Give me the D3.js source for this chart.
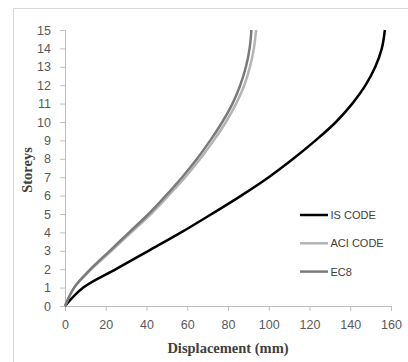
<!DOCTYPE html>
<html>
<head>
<meta charset="utf-8">
<script src="https://cdn.jsdelivr.net/npm/d3@7/dist/d3.min.js"></script>
<style>
  body { margin: 0; background: #fff; }
</style>
</head>
<body>
<div id="chart"></div>
<script>
// data
const storeys = [0, 1, 2, 3, 4, 5, 6, 7, 8, 9, 10, 11, 12, 13, 14, 15];
const isCode = [0, 9, 25, 41, 57, 72, 86.5, 100, 112, 123, 133, 141, 147.5, 152.3, 155.5, 157];
const aciCode = [0, 4.5, 13, 22.8, 32.5, 42.2, 50.8, 59, 66.4, 73, 79, 84, 88, 90.8, 92.7, 93.8];
const ec8 = [0, 4.5, 12.5, 22, 31.5, 41, 49.5, 57.5, 64.8, 71.3, 77.2, 82.2, 86, 88.8, 90.6, 91.5];
const xTicks = [0, 20, 40, 60, 80, 100, 120, 140, 160];
const yTicks = [0, 1, 2, 3, 4, 5, 6, 7, 8, 9, 10, 11, 12, 13, 14, 15];

const series = [
  { name: "IS CODE", values: isCode, color: "#000000" },
  { name: "ACI CODE", values: aciCode, color: "#b4b4b4" },
  { name: "EC8", values: ec8, color: "#7a7a7a" },
];

const W = 408, H = 362;
const margin = { top: 30, right: 17, bottom: 56, left: 65 };
const width = W - margin.left - margin.right;
const height = H - margin.top - margin.bottom;

const root = d3.select("#chart").append("svg").attr("width", W).attr("height", H);

// chart area border (only top and left are inside the picture)
root.append("path")
  .attr("d", "M13.5,362 V8.5 H408")
  .attr("fill", "none")
  .attr("stroke", "#d9d9d9")
  .attr("stroke-width", 1);

const svg = root.append("g").attr("transform", `translate(${margin.left},${margin.top})`);

const x = d3.scaleLinear().domain([0, 160]).range([0, width]);
const y = d3.scaleLinear().domain([0, 15]).range([height, 0]);

// X axis
const gx = svg.append("g")
  .attr("transform", `translate(0,${height})`)
  .call(d3.axisBottom(x).tickValues(xTicks).tickSize(5).tickPadding(9));

// Y axis
const gy = svg.append("g")
  .call(d3.axisLeft(y).tickValues(yTicks).tickSize(5).tickPadding(9));

[gx, gy].forEach((g) => {
  g.select(".domain").attr("stroke", "#bfbfbf");
  g.selectAll(".tick line").attr("stroke", "#bfbfbf");
  g.selectAll(".tick text")
    .attr("fill", "#595959")
    .style("font-family", "'Liberation Sans', Arial, sans-serif")
    .style("font-size", "12.5px");
});

// lines
const line = d3.line()
  .curve(d3.curveCatmullRom.alpha(0.5))
  .x((d) => x(d[0]))
  .y((d) => y(d[1]));

series.forEach((s) => {
  svg.append("path")
    .datum(s.values.map((v, i) => [v, storeys[i]]))
    .attr("fill", "none")
    .attr("stroke", s.color)
    .attr("stroke-width", 2.5)
    .attr("d", line);
});

// legend
const legend = svg.append("g").attr("transform", `translate(${300 - margin.left},${215 - margin.top})`);
series.forEach((s, i) => {
  const g = legend.append("g").attr("transform", `translate(0,${i * 28.3})`);
  g.append("line")
    .attr("x1", 0).attr("x2", 28)
    .attr("y1", 0).attr("y2", 0)
    .attr("stroke", s.color)
    .attr("stroke-width", 2.5);
  g.append("text")
    .attr("x", 30.5)
    .attr("y", 4)
    .attr("fill", "#404040")
    .style("font-family", "'Liberation Sans Narrow', 'Liberation Sans', Arial, sans-serif")
    .style("font-size", "11px")
    .text(s.name);
});

// axis labels
svg.append("text")
  .attr("x", width / 2)
  .attr("y", height + 47)
  .attr("text-anchor", "middle")
  .attr("fill", "#404040")
  .style("font-family", "'Liberation Serif', 'Times New Roman', serif")
  .style("font-weight", "bold")
  .style("font-size", "14.5px")
  .text("Displacement (mm)");

svg.append("text")
  .attr("transform", "rotate(-90)")
  .attr("x", -(170 - margin.top))
  .attr("y", 32 - margin.left)
  .attr("text-anchor", "middle")
  .attr("fill", "#404040")
  .style("font-family", "'Liberation Serif', 'Times New Roman', serif")
  .style("font-weight", "bold")
  .style("font-size", "14.5px")
  .text("Storeys");
</script>
</body>
</html>
